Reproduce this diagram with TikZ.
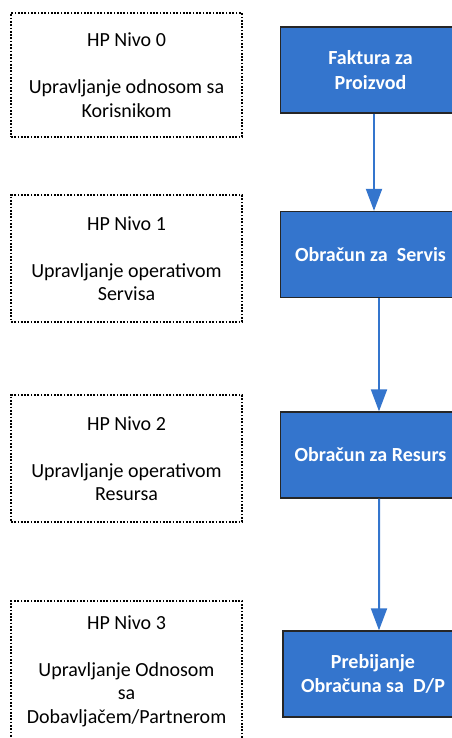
\documentclass[tikz,border=0pt]{standalone}
\usepackage{fontspec}
\setmainfont{Carlito}
\usetikzlibrary{arrows.meta}
\definecolor{boxblue}{RGB}{52,117,205}
\begin{document}
\begin{tikzpicture}[x=1bp,y=-1bp,
  levelbox/.style={draw=black, line width=1.8bp, dash pattern=on 1.7bp off 1.6bp,
    minimum width=231bp, align=center, inner sep=0pt,
    font=\fontsize{20bp}{23.5bp}\selectfont},
  procbox/.style={draw=black!85, line width=1.3bp, fill=boxblue, text=white,
    minimum width=180bp, minimum height=86bp, align=center, inner sep=0pt,
    font=\fontsize{20bp}{24.4bp}\selectfont\bfseries},
  flow/.style={draw=boxblue, line width=2bp, -{Triangle[width=16bp,length=22bp]}}]
\useasboundingbox (0,0) rectangle (452,738);
\clip (0,0) rectangle (452,738);
% level boxes
\node[levelbox, minimum height=124bp] (L0) at (126.5,75) {HP Nivo 0\\[23.5bp]Upravljanje odnosom sa\\Korisnikom};
\node[levelbox, minimum height=127bp] (L1) at (126.5,258.5) {HP Nivo 1\\[23.5bp]Upravljanje operativom\\Servisa};
\node[levelbox, minimum height=127bp] (L2) at (126.5,458.5) {HP Nivo 2\\[23.5bp]Upravljanje operativom\\Resursa};
\node[levelbox, minimum height=140bp] (L3) at (126.5,671) {HP Nivo 3\\[23.5bp]Upravljanje Odnosom\\sa\\Dobavljačem/Partnerom};
% process boxes
\node[procbox] (A) at (370.5,70) {Faktura za\\Proizvod};
\node[procbox] (B) at (370.5,254.5) {Obračun za\ \ Servis};
\node[procbox] (C) at (370.5,455) {Obračun za Resurs};
\node[procbox] (D) at (373,674) {Prebijanje\\Obračuna sa\ \ D/P};
% connectors
\draw[flow] ([xshift=3.5bp]A.south) -- ([xshift=3.5bp]B.north);
\draw[flow] ([xshift=8.5bp]B.south) -- ([xshift=8.5bp]C.north);
\draw[flow] ([xshift=8.5bp]C.south) -- ([xshift=6bp]D.north);
\end{tikzpicture}
\end{document}
